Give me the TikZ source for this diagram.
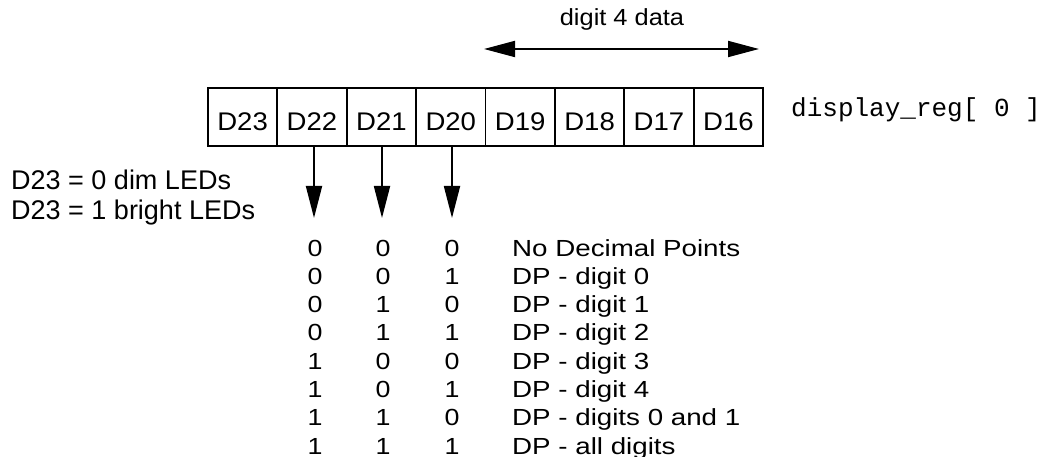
\documentclass[tikz,border=0pt]{standalone}
\usepackage{graphicx}
\usepackage{fontspec}
\setmainfont{Liberation Sans}
\newfontfamily\regmono{Liberation Mono}
\usetikzlibrary{arrows.meta}
\newcommand\myhs[2]{\scalebox{#1}[1]{#2}}
\tikzset{
  cell/.style={draw, line width=1.8pt, minimum width=69.4pt, minimum height=58pt,
    inner sep=0pt, anchor=north west},
  celltext/.style={inner sep=0pt, anchor=base, font=\fontsize{25.5}{30}\selectfont},
  tbl/.style={inner sep=0pt, font=\fontsize{23.3}{28}\selectfont},
  side/.style={inner sep=0pt, anchor=base west, font=\fontsize{27}{32}\selectfont},
  downarrow/.style={line width=1.8pt, -{Triangle[length=32pt,width=16pt]}},
  spanarrow/.style={line width=1.8pt, {Triangle[length=31pt,width=16pt]}-{Triangle[length=31pt,width=16pt]}},
}
\begin{document}
\begin{tikzpicture}[x=1pt,y=-1pt]
\useasboundingbox (0,0) rectangle (1047,457);
% register cells
\foreach \n [count=\k from 0] in {23,22,21,20,19,18,17,16} {
  \node[cell] (c\n) at ({207+69.4*\k},87) {};
  \node[celltext] (l\n) at ([yshift=-14pt]c\n.center) {\myhs{1.08}{D\n}};
}
\node[inner sep=0pt, anchor=base west, font=\regmono\fontsize{26}{30}\selectfont] (reg) at (791,117) {display\_reg[ 0 ]};
% digit 4 data span
\coordinate (al) at (484,49);
\coordinate (ar) at (759,49);
\draw[spanarrow] (al) -- (ar);
\node[tbl, anchor=base] (span) at (622,26) {\myhs{1.09}{digit 4 data}};
% D23 note
\node[side] (n0) at (11,190) {D23 = 0 dim LEDs};
\node[side] (n1) at (11,220) {D23 = 1 bright LEDs};
% arrows down
\coordinate (t22) at (314,218);
\coordinate (t21) at (382,218);
\coordinate (t20) at (452,218);
\draw[downarrow] (t22 |- c22.south) -- (t22);
\draw[downarrow] (t21 |- c21.south) -- (t21);
\draw[downarrow] (t20 |- c20.south) -- (t20);
% table
\foreach \a/\b/\c/\t [count=\i from 0] in {
  0/0/0/No Decimal Points,
  0/0/1/DP - digit 0,
  0/1/0/DP - digit 1,
  0/1/1/DP - digit 2,
  1/0/0/DP - digit 3,
  1/0/1/DP - digit 4,
  1/1/0/DP - digits 0 and 1,
  1/1/1/DP - all digits} {
  \node[tbl, anchor=base] (ra\i) at ({315},{256+28.3*\i}) {\myhs{1.15}{\a}};
  \node[tbl, anchor=base] (rb\i) at ({383},{256+28.3*\i}) {\myhs{1.15}{\b}};
  \node[tbl, anchor=base] (rc\i) at ({452},{256+28.3*\i}) {\myhs{1.15}{\c}};
  \node[tbl, anchor=base west] (rt\i) at ({512},{256+28.3*\i}) {\myhs{1.19}{\t}};
}
\end{tikzpicture}
\end{document}
